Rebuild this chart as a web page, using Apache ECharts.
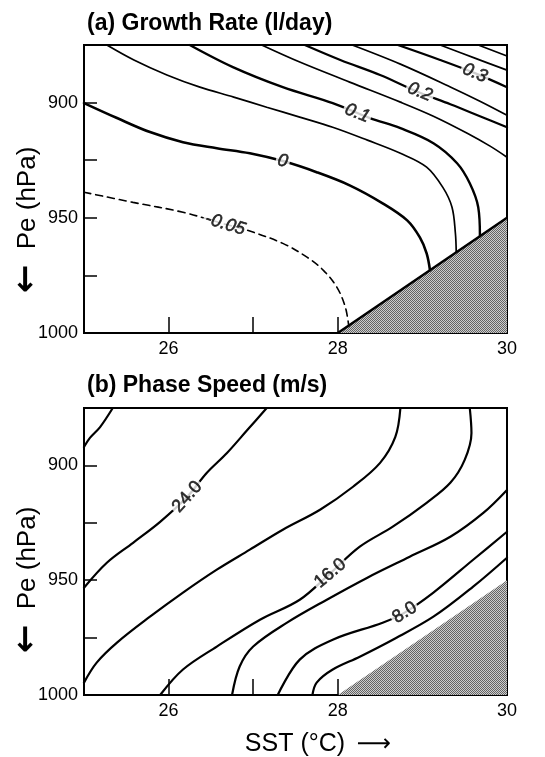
<!DOCTYPE html>
<html>
<head>
<meta charset="utf-8">
<script src="https://cdn.jsdelivr.net/npm/echarts@6/dist/echarts.min.js"></script>
<style>
  html, body { margin: 0; padding: 0; background: #fff; }
  #chart { width: 545px; height: 757px; }
</style>
</head>
<body>
<div id="chart"></div>
<script>
"use strict";
// tick labels that are printed
const sstLabels = [26, 28, 30];
const peLabels = [900, 950, 1000];

// (a) growth rate contours, points are [SST, Pe]
const growthM005 = [[25.00, 938.9], [25.58, 943.3], [26.17, 947.6], [26.67, 952.8], [26.93, 955.4], [27.35, 961.1], [27.64, 967.2], [27.83, 972.8], [27.99, 980.2], [28.09, 988.9], [28.13, 997.2]];
const growth0 = [[25.00, 900.2], [25.39, 906.7], [25.78, 912.8], [26.17, 917.2], [26.57, 919.8], [26.96, 922.0], [27.35, 925.4], [27.75, 930.2], [28.14, 935.9], [28.53, 943.7], [28.82, 951.1], [28.97, 958.5], [29.05, 965.4], [29.09, 972.8]];
const growth005 = [[25.27, 875], [25.59, 881.5], [25.98, 888.0], [26.37, 893.3], [26.77, 897.6], [27.16, 902.0], [27.55, 906.3], [27.94, 910.7], [28.35, 916.3], [28.74, 922.0], [29.05, 928.0], [29.24, 936.7], [29.35, 945.4], [29.39, 956.7], [29.40, 965.0]];
const growth01 = [[26.25, 875], [26.76, 884.6], [27.35, 893.3], [27.94, 900.2], [28.38, 906.7], [28.74, 911.1], [29.13, 917.6], [29.41, 926.3], [29.56, 935.0], [29.66, 945.4], [29.68, 958.0]];
const growth015 = [[27.10, 875], [27.55, 882.4], [28.14, 891.1], [28.74, 899.8], [29.13, 905.9], [29.53, 913.3], [29.80, 918.9], [30.00, 923.7]];
const growth02 = [[27.61, 875], [28.03, 881.5], [28.50, 888.0], [28.95, 895.4], [29.33, 900.7], [29.68, 905.9], [30.00, 910.7]];
const growth025 = [[28.17, 875], [28.74, 883.3], [29.33, 893.2], [29.68, 899.4], [30.00, 905.5]];
const growth03 = [[28.71, 875], [29.21, 881.5], [29.62, 887.2], [30.00, 893.3]];
const growth035 = [[29.21, 875], [29.62, 880.7], [30.00, 885.9]];
const growth04 = [[29.66, 875], [30.00, 879.8]];
const growthLabels = [[26.67, 952.8, '-0.05'], [27.35, 925.4, '0'], [28.23, 904.6, '0.1'], [28.97, 895.4, '0.2'], [29.62, 887.2, '0.3']];
const growthLabelAngles = [-17, -12, -22, -22, -22];

// (b) phase speed contours
const phase28 = [[25.34, 875], [25.19, 883.3], [25.07, 888.0], [25.00, 892.0]];
const phase24 = [[27.16, 875], [26.93, 884.6], [26.69, 894.6], [26.45, 903.3], [26.22, 913.7], [25.90, 924.6], [25.58, 933.7], [25.27, 942.4], [25.00, 953.3]];
const phase20 = [[28.74, 875], [28.68, 887.6], [28.50, 898.9], [28.18, 909.3], [27.79, 919.3], [27.35, 928.0], [26.96, 936.7], [26.57, 945.4], [26.17, 955.4], [25.78, 965.9], [25.39, 977.2], [25.15, 985.9], [25.00, 994.6]];
const phase16 = [[29.56, 875], [29.58, 885.9], [29.50, 897.6], [29.33, 907.6], [29.05, 916.3], [28.65, 926.7], [28.26, 935.4], [27.91, 947.0], [27.55, 958.5], [27.08, 967.2], [26.57, 978.9], [26.17, 988.9], [25.90, 1000]];
const phase12 = [[30.00, 910.7], [29.72, 920.7], [29.33, 931.1], [28.85, 939.8], [28.35, 948.9], [27.87, 958.5], [27.40, 968.5], [27.00, 978.9], [26.84, 987.6], [26.75, 1000]];
const phase8 = [[30.00, 928.9], [29.60, 941.1], [29.13, 955.4], [28.79, 964.1], [28.53, 968.5], [27.94, 975.9], [27.55, 984.6], [27.29, 1000]];
const phase4 = [[30.00, 940.2], [29.60, 952.8], [29.13, 965.9], [28.65, 975.9], [28.26, 983.3], [27.94, 988.9], [27.75, 994.6], [27.70, 1000]];
const phaseLabels = [[26.22, 913.7, '24.0'], [27.91, 947.0, '16.0'], [28.79, 964.1, '8.0']];
const phaseLabelAngles = [48, 40, 32];

// excluded (shaded) corner
const shadeVerts = [[28, 1000], [30, 950], [30, 1000]];
const shadeEdge = [[28, 1000], [30, 950]];

const FONT = 'Liberation Sans, Arial, Helvetica, sans-serif';

// stippled grey fill
const pat = document.createElement('canvas');
pat.width = 2; pat.height = 2;
const pc = pat.getContext('2d');
pc.fillStyle = '#cdcdcd'; pc.fillRect(0, 0, 2, 2);
pc.fillStyle = '#646464'; pc.fillRect(0, 0, 1, 1); pc.fillRect(1, 1, 1, 1);
const shadeFill = { image: pat, repeat: 'repeat' };

function contour(idx, data, width, dashed) {
  return {
    type: 'line', xAxisIndex: idx, yAxisIndex: idx, data: data,
    smooth: 0.35, showSymbol: false, silent: true, z: 3,
    lineStyle: { color: '#000', width: width, type: dashed ? [7, 5] : 'solid', cap: 'round' }
  };
}

function shade(idx) {
  return {
    type: 'custom', xAxisIndex: idx, yAxisIndex: idx, z: 1, silent: true,
    renderItem: function (params, api) {
      if (params.dataIndex > 0) return null;
      const pts = shadeVerts.map(p => api.coord(p));
      return { type: 'polygon', shape: { points: pts }, style: { fill: shadeFill } };
    },
    data: shadeVerts
  };
}

function labels(idx, items, angles, italic) {
  return {
    type: 'scatter', xAxisIndex: idx, yAxisIndex: idx, z: 6, silent: true,
    symbolSize: 1, itemStyle: { color: 'rgba(0,0,0,0)' },
    label: {
      show: true, position: 'inside', color: '#000', fontSize: 18, fontFamily: FONT,
      fontStyle: italic ? 'italic' : 'normal', textBorderColor: '#000', textBorderWidth: 0.6,
      backgroundColor: '#fff', padding: [0, 2]
    },
    data: items.map((d, i) => ({ value: [d[0], d[1]], label: { formatter: d[2], rotate: angles[i] } }))
  };
}

function xAxis(idx) {
  return {
    type: 'value', gridIndex: idx, min: 25, max: 30, interval: 1,
    axisLine: { show: true, lineStyle: { color: '#000', width: 2 } },
    axisTick: { show: true, inside: true, length: 16, lineStyle: { color: '#000', width: 1.5 } },
    axisLabel: {
      color: '#000', fontSize: 18, fontFamily: FONT, margin: 7, showMinLabel: true, showMaxLabel: true,
      formatter: v => sstLabels.includes(v) ? String(v) : ''
    },
    splitLine: { show: false }
  };
}

function yAxis(idx) {
  return {
    type: 'value', gridIndex: idx, min: 875, max: 1000, interval: 25, inverse: true,
    axisLine: { show: true, lineStyle: { color: '#000', width: 2 } },
    axisTick: { show: true, inside: true, length: 13, lineStyle: { color: '#000', width: 1.5 } },
    axisLabel: {
      color: '#000', fontSize: 18, fontFamily: FONT, margin: 6, showMinLabel: true, showMaxLabel: true,
      formatter: v => peLabels.includes(v) ? String(v) : ''
    },
    splitLine: { show: false }
  };
}

function rotText(text, x, y, font) {
  return { type: 'text', x: x, y: y, rotation: Math.PI / 2, style: { text: text, font: font, fill: '#000', align: 'center', verticalAlign: 'middle' } };
}

const titleStyle = { fontSize: 23, fontWeight: 'bold', fontFamily: FONT, color: '#000' };

const chart = echarts.init(document.getElementById('chart'), null, { renderer: 'canvas' });
chart.setOption({
  animation: false,
  backgroundColor: '#fff',
  title: [
    { text: '(a) Growth Rate (l/day)', left: 82, top: 7, textStyle: titleStyle },
    { text: '(b) Phase Speed (m/s)', left: 82, top: 369, textStyle: titleStyle }
  ],
  grid: [
    { left: 84, top: 45, width: 423, height: 288, show: true, borderColor: '#000', borderWidth: 2, backgroundColor: 'transparent' },
    { left: 84, top: 408, width: 423, height: 287, show: true, borderColor: '#000', borderWidth: 2, backgroundColor: 'transparent' }
  ],
  xAxis: [xAxis(0), xAxis(1)],
  yAxis: [yAxis(0), yAxis(1)],
  graphic: [
    rotText('Pe (hPa)', 28, 198, '26px ' + FONT),
    rotText('\u2190', 27, 279, 'bold 34px DejaVu Sans'),
    rotText('Pe (hPa)', 28, 558, '26px ' + FONT),
    rotText('\u2190', 27, 639, 'bold 34px DejaVu Sans'),
    { type: 'text', x: 295, y: 744, style: { text: 'SST (\u00b0C)', font: '25px ' + FONT, fill: '#000', align: 'center', verticalAlign: 'middle' } },
    { type: 'text', x: 374, y: 745, style: { text: '\u27f6', font: '24px DejaVu Sans', fill: '#000', align: 'center', verticalAlign: 'middle' } }
  ],
  series: [
    shade(0),
    { type: 'line', xAxisIndex: 0, yAxisIndex: 0, data: shadeEdge, showSymbol: false, silent: true, z: 4, lineStyle: { color: '#000', width: 2.5 } },
    contour(0, growthM005, 1.6, true),
    contour(0, growth0, 2.6),
    contour(0, growth005, 1.7),
    contour(0, growth01, 2.4),
    contour(0, growth015, 1.7),
    contour(0, growth02, 2.2),
    contour(0, growth025, 1.7),
    contour(0, growth03, 2.2),
    contour(0, growth035, 1.7),
    contour(0, growth04, 1.7),
    labels(0, growthLabels, growthLabelAngles, true),
    shade(1),
    contour(1, phase28, 2.2),
    contour(1, phase24, 2.2),
    contour(1, phase20, 2.2),
    contour(1, phase16, 2.2),
    contour(1, phase12, 2.2),
    contour(1, phase8, 2.2),
    contour(1, phase4, 2.2),
    labels(1, phaseLabels, phaseLabelAngles, false)
  ]
});
</script>
</body>
</html>
